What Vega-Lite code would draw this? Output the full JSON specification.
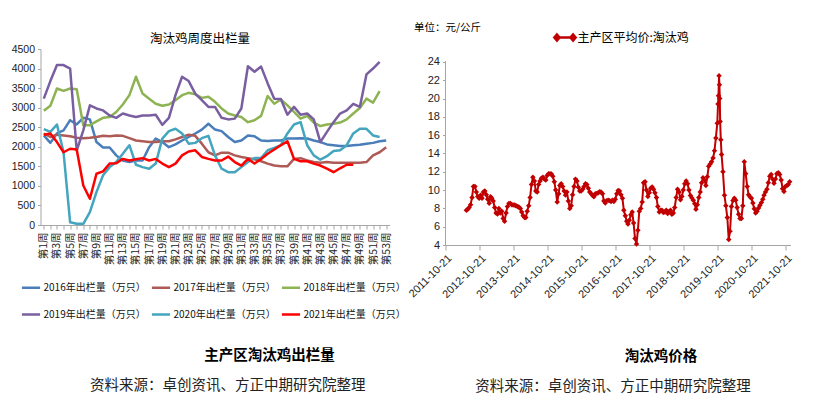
{
  "$schema": "https://vega.github.io/schema/vega-lite/v6.json",
  "background": "white",
  "padding": {"left": 10.5, "top": 22, "right": 4, "bottom": 4},
  "config": {
    "view": {"stroke": null},
    "axis": {"domainColor": "#A6A6A6", "tickColor": "#A6A6A6", "labelColor": "#222222", "grid": false, "title": null}
  },
  "resolve": {"scale": {"color": "independent", "strokeWidth": "independent"}, "legend": {"color": "independent", "strokeWidth": "independent"}},
  "spacing": -1,
  "hconcat": [
    {
      "title": {"text": "资料来源：卓创资讯、方正中期研究院整理", "orient": "bottom", "anchor": "middle", "dx": 19, "offset": 17, "font": "Noto Sans CJK SC", "fontSize": 14.5, "fontWeight": "normal", "color": "#222222"},
      "vconcat": [
        {
          "title": {"text": "主产区淘汰鸡出栏量", "orient": "bottom", "anchor": "middle", "dx": 68, "offset": 84, "font": "Noto Sans CJK SC", "fontSize": 14.5, "fontWeight": "bold", "color": "#000000"},
          "vconcat": [
            {
              "width": 349,
              "height": 176,
              "title": {"text": "淘汰鸡周度出栏量", "font": "Noto Sans CJK SC", "fontSize": 12.5, "fontWeight": "normal", "color": "#000000", "offset": 6, "dy": 7, "anchor": "middle", "dx": -15},
              "data": {"values": [
                {"w":1,"2016":2290,"2017":2340,"2018":2920,"2019":3230,"2020":2450,"2021":2310},
                {"w":2,"2016":2100,"2017":2250,"2018":3050,"2019":3680,"2020":2380,"2021":2340},
                {"w":3,"2016":2340,"2017":2310,"2018":3490,"2019":4090,"2020":2570,"2021":2120},
                {"w":4,"2016":2420,"2017":2290,"2018":3430,"2019":4090,"2020":1860,"2021":1860},
                {"w":5,"2016":2680,"2017":2270,"2018":3490,"2019":4000,"2020":70,"2021":1950},
                {"w":6,"2016":2570,"2017":2230,"2018":3470,"2019":1900,"2020":30,"2021":1930},
                {"w":7,"2016":2740,"2017":2220,"2018":2550,"2019":2420,"2020":30,"2021":1010},
                {"w":8,"2016":2700,"2017":2230,"2018":2550,"2019":3060,"2020":330,"2021":670},
                {"w":9,"2016":2120,"2017":2250,"2018":2650,"2019":2980,"2020":840,"2021":1310},
                {"w":10,"2016":1980,"2017":2280,"2018":2740,"2019":2930,"2020":1270,"2021":1370},
                {"w":11,"2016":1980,"2017":2270,"2018":2760,"2019":2800,"2020":1480,"2021":1570},
                {"w":12,"2016":1780,"2017":2290,"2018":2890,"2019":2740,"2020":1610,"2021":1580},
                {"w":13,"2016":1650,"2017":2280,"2018":3080,"2019":2850,"2020":1820,"2021":1690},
                {"w":14,"2016":1610,"2017":2220,"2018":3320,"2019":2800,"2020":2040,"2021":1650},
                {"w":15,"2016":1650,"2017":2160,"2018":3790,"2019":2760,"2020":1540,"2021":1680},
                {"w":16,"2016":1650,"2017":2140,"2018":3360,"2019":2800,"2020":1480,"2021":1710},
                {"w":17,"2016":1990,"2017":2120,"2018":3230,"2019":2800,"2020":1440,"2021":1650},
                {"w":18,"2016":2210,"2017":2120,"2018":3100,"2019":2820,"2020":1570,"2021":1690},
                {"w":19,"2016":2120,"2017":2140,"2018":3050,"2019":2560,"2020":2210,"2021":1570},
                {"w":20,"2016":1990,"2017":2140,"2018":3080,"2019":2740,"2020":2400,"2021":1480},
                {"w":21,"2016":2060,"2017":2190,"2018":3190,"2019":3320,"2020":2460,"2021":1570},
                {"w":22,"2016":2160,"2017":2250,"2018":3320,"2019":3790,"2020":2340,"2021":1780},
                {"w":23,"2016":2250,"2017":2310,"2018":3380,"2019":3680,"2020":2080,"2021":1880},
                {"w":24,"2016":2340,"2017":2280,"2018":3340,"2019":3360,"2020":2100,"2021":1910},
                {"w":25,"2016":2440,"2017":2080,"2018":3250,"2019":3190,"2020":2220,"2021":1740},
                {"w":26,"2016":2590,"2017":1860,"2018":3280,"2019":3020,"2020":2280,"2021":1690},
                {"w":27,"2016":2440,"2017":1780,"2018":3150,"2019":3020,"2020":1780,"2021":1650},
                {"w":28,"2016":2400,"2017":1850,"2018":2980,"2019":2740,"2020":1440,"2021":1650},
                {"w":29,"2016":2250,"2017":1850,"2018":2850,"2019":2700,"2020":1350,"2021":1750},
                {"w":30,"2016":2120,"2017":1780,"2018":2800,"2019":2720,"2020":1350,"2021":1610},
                {"w":31,"2016":2160,"2017":1740,"2018":2760,"2019":2980,"2020":1480,"2021":1520},
                {"w":32,"2016":2290,"2017":1710,"2018":2630,"2019":4060,"2020":1610,"2021":1690},
                {"w":33,"2016":2270,"2017":1680,"2018":2680,"2019":3920,"2020":1710,"2021":1570},
                {"w":34,"2016":2160,"2017":1630,"2018":2790,"2019":4050,"2020":1710,"2021":1690},
                {"w":35,"2016":2150,"2017":1570,"2018":3300,"2019":3620,"2020":1910,"2021":1820},
                {"w":36,"2016":2160,"2017":1520,"2018":3100,"2019":3230,"2020":1970,"2021":1930},
                {"w":37,"2016":2160,"2017":1500,"2018":3210,"2019":3220,"2020":2040,"2021":2040},
                {"w":38,"2016":2210,"2017":1500,"2018":3060,"2019":2820,"2020":2340,"2021":2140},
                {"w":39,"2016":2210,"2017":1690,"2018":2890,"2019":3020,"2020":2570,"2021":1690},
                {"w":40,"2016":2220,"2017":1710,"2018":2720,"2019":2820,"2020":2630,"2021":1630},
                {"w":41,"2016":2210,"2017":1650,"2018":2790,"2019":2850,"2020":2040,"2021":1630},
                {"w":42,"2016":2160,"2017":1610,"2018":2620,"2019":2700,"2020":1780,"2021":1570},
                {"w":43,"2016":2120,"2017":1590,"2018":2530,"2019":2120,"2020":1670,"2021":1520},
                {"w":44,"2016":2060,"2017":1610,"2018":2570,"2019":2380,"2020":1760,"2021":1440},
                {"w":45,"2016":2040,"2017":1590,"2018":2590,"2019":2630,"2020":1890,"2021":1350},
                {"w":46,"2016":2020,"2017":1590,"2018":2620,"2019":2850,"2020":1910,"2021":1450},
                {"w":47,"2016":2020,"2017":1590,"2018":2700,"2019":2930,"2020":2040,"2021":1540},
                {"w":48,"2016":2040,"2017":1590,"2018":2850,"2019":3100,"2020":2340,"2021":1540},
                {"w":49,"2016":2050,"2017":1590,"2018":2990,"2019":3020,"2020":2460},
                {"w":50,"2016":2080,"2017":1610,"2018":3230,"2019":3850,"2020":2460},
                {"w":51,"2016":2100,"2017":1780,"2018":3130,"2019":4000,"2020":2290},
                {"w":52,"2016":2140,"2017":1860,"2018":3420,"2019":4170,"2020":2250},
                {"w":53,"2016":2160,"2017":1990}
              ]},
              "transform": [{"fold": ["2016", "2017", "2018", "2019", "2020", "2021"], "as": ["series", "value"]}],
              "mark": {"type": "line", "strokeJoin": "round"},
              "encoding": {
                "x": {"field": "w", "type": "quantitative",
                  "scale": {"domain": [0.5, 53.5], "nice": false, "zero": false},
                  "axis": {"values": [1,2,3,4,5,6,7,8,9,10,11,12,13,14,15,16,17,18,19,20,21,22,23,24,25,26,27,28,29,30,31,32,33,34,35,36,37,38,39,40,41,42,43,44,45,46,47,48,49,50,51,52,53],
                    "labelExpr": "datum.value % 2 == 1 ? '第' + datum.value + '周' : ''",
                    "labelAngle": -90, "labelOverlap": false, "labelFont": "Noto Sans CJK SC", "labelFontSize": 10.5, "labelPadding": 3, "tickSize": 4}},
                "y": {"field": "value", "type": "quantitative",
                  "scale": {"domain": [0, 4500], "nice": false},
                  "axis": {"values": [0,500,1000,1500,2000,2500,3000,3500,4000,4500], "format": "d", "labelFont": "Liberation Sans Narrow, Liberation Sans", "labelFontSize": 10.5, "tickSize": 3, "labelPadding": 3}},
                "color": {"field": "series", "type": "nominal",
                  "scale": {"domain": ["2016", "2017", "2018", "2019", "2020", "2021"], "range": ["#4A7EBB", "#AE5A57", "#8DB352", "#7A5FA0", "#44A5BE", "#FF0000"]},
                  "legend": {"orient": "none", "legendX": -20, "legendY": 228, "columns": 3, "direction": "horizontal", "title": null,
                    "symbolType": "stroke", "symbolSize": 330, "symbolStrokeWidth": 3, "labelOffset": 2,
                    "labelFont": "Noto Sans CJK SC", "labelFontSize": 10, "labelColor": "#111111", "labelLimit": 0,
                    "columnPadding": 0, "rowPadding": 11,
                    "labelExpr": "datum.label + '年出栏量（万只）'"}},
                "strokeWidth": {"field": "series", "type": "nominal",
                  "scale": {"domain": ["2016", "2017", "2018", "2019", "2020", "2021"], "range": [2.5, 2.5, 2.5, 2.5, 2.5, 3.2]},
                  "legend": null}
              }
            }
          ]
        }
      ]
    },
    {
      "title": {"text": "资料来源：卓创资讯、方正中期研究院整理", "orient": "bottom", "anchor": "middle", "dx": 13, "offset": 17, "font": "Noto Sans CJK SC", "fontSize": 14.5, "fontWeight": "normal", "color": "#222222"},
      "vconcat": [
        {
          "title": {"text": "淘汰鸡价格", "orient": "bottom", "anchor": "middle", "dx": 61, "offset": 50, "font": "Noto Sans CJK SC", "fontSize": 14.5, "fontWeight": "bold", "color": "#000000"},
          "vconcat": [
            {
              "width": 345,
              "height": 196,
              "data": {"values": [
                {"d":"2012-06-01","v":7.8},{"d":"2012-06-16","v":7.9},{"d":"2012-07-01","v":8.1},{"d":"2012-07-16","v":8.4},{"d":"2012-08-01","v":9.2},{"d":"2012-08-16","v":10.4},{"d":"2012-09-01","v":10.4},{"d":"2012-09-16","v":9.8},{"d":"2012-10-01","v":9.3},{"d":"2012-10-16","v":9.1},{"d":"2012-11-01","v":9.45},{"d":"2012-11-16","v":9.1},{"d":"2012-12-01","v":9.8},{"d":"2012-12-16","v":9.9},
                {"d":"2013-01-01","v":9.5},{"d":"2013-01-16","v":9.0},{"d":"2013-02-01","v":8.55},{"d":"2013-02-16","v":9.27},{"d":"2013-03-01","v":9.1},{"d":"2013-03-16","v":8.8},{"d":"2013-04-01","v":8.1},{"d":"2013-04-16","v":7.5},{"d":"2013-05-01","v":7.4},{"d":"2013-05-16","v":8.0},{"d":"2013-06-01","v":7.5},{"d":"2013-06-16","v":7.7},{"d":"2013-07-01","v":6.9},{"d":"2013-07-16","v":6.6},{"d":"2013-08-01","v":7.5},{"d":"2013-08-16","v":8.2},{"d":"2013-09-01","v":8.55},{"d":"2013-09-16","v":8.55},{"d":"2013-10-01","v":8.4},{"d":"2013-10-16","v":8.36},{"d":"2013-11-01","v":8.36},{"d":"2013-11-16","v":8.3},{"d":"2013-12-01","v":8.2},{"d":"2013-12-16","v":8.15},
                {"d":"2014-01-01","v":8.0},{"d":"2014-01-16","v":7.6},{"d":"2014-02-01","v":7.2},{"d":"2014-02-16","v":7.0},{"d":"2014-03-01","v":7.0},{"d":"2014-03-16","v":7.7},{"d":"2014-04-01","v":8.3},{"d":"2014-04-16","v":9.2},{"d":"2014-05-01","v":10.6},{"d":"2014-05-16","v":11.4},{"d":"2014-06-01","v":11.0},{"d":"2014-06-16","v":9.9},{"d":"2014-07-01","v":9.8},{"d":"2014-07-16","v":10.6},{"d":"2014-08-01","v":11.0},{"d":"2014-08-16","v":11.3},{"d":"2014-09-01","v":11.4},{"d":"2014-09-16","v":11.2},{"d":"2014-10-01","v":11.1},{"d":"2014-10-16","v":11.6},{"d":"2014-11-01","v":11.8},{"d":"2014-11-16","v":11.8},{"d":"2014-12-01","v":11.75},{"d":"2014-12-16","v":11.5},
                {"d":"2015-01-01","v":10.9},{"d":"2015-01-16","v":10.0},{"d":"2015-02-01","v":8.7},{"d":"2015-02-16","v":9.6},{"d":"2015-03-01","v":10.5},{"d":"2015-03-16","v":10.7},{"d":"2015-04-01","v":10.4},{"d":"2015-04-16","v":9.9},{"d":"2015-05-01","v":9.45},{"d":"2015-05-16","v":9.8},{"d":"2015-06-01","v":8.8},{"d":"2015-06-16","v":8.0},{"d":"2015-07-01","v":8.3},{"d":"2015-07-16","v":9.5},{"d":"2015-08-01","v":10.4},{"d":"2015-08-16","v":11.2},{"d":"2015-09-01","v":11.0},{"d":"2015-09-16","v":10.3},{"d":"2015-10-01","v":9.9},{"d":"2015-10-16","v":9.9},{"d":"2015-11-01","v":10.1},{"d":"2015-11-16","v":10.4},{"d":"2015-12-01","v":10.7},{"d":"2015-12-16","v":10.6},
                {"d":"2016-01-01","v":10.2},{"d":"2016-01-16","v":9.8},{"d":"2016-02-01","v":9.6},{"d":"2016-02-16","v":9.4},{"d":"2016-03-01","v":9.27},{"d":"2016-03-16","v":9.6},{"d":"2016-04-01","v":9.64},{"d":"2016-04-16","v":9.7},{"d":"2016-05-01","v":9.82},{"d":"2016-05-16","v":9.8},{"d":"2016-06-01","v":9.6},{"d":"2016-06-16","v":8.8},{"d":"2016-07-01","v":8.6},{"d":"2016-07-16","v":8.85},{"d":"2016-08-01","v":8.9},{"d":"2016-08-16","v":8.85},{"d":"2016-09-01","v":8.75},{"d":"2016-09-16","v":8.9},{"d":"2016-10-01","v":8.75},{"d":"2016-10-16","v":9.0},{"d":"2016-11-01","v":9.6},{"d":"2016-11-16","v":9.95},{"d":"2016-12-01","v":9.9},{"d":"2016-12-16","v":9.5},
                {"d":"2017-01-01","v":9.1},{"d":"2017-01-16","v":7.8},{"d":"2017-02-01","v":7.2},{"d":"2017-02-16","v":6.6},{"d":"2017-03-01","v":6.3},{"d":"2017-03-16","v":6.7},{"d":"2017-04-01","v":7.3},{"d":"2017-04-16","v":7.6},{"d":"2017-05-01","v":6.4},{"d":"2017-05-16","v":4.7},{"d":"2017-06-01","v":4.1},{"d":"2017-06-16","v":5.6},{"d":"2017-07-01","v":7.7},{"d":"2017-07-16","v":8.0},{"d":"2017-08-01","v":8.7},{"d":"2017-08-16","v":10.8},{"d":"2017-09-01","v":10.9},{"d":"2017-09-16","v":10.0},{"d":"2017-10-01","v":9.3},{"d":"2017-10-16","v":9.7},{"d":"2017-11-01","v":10.2},{"d":"2017-11-16","v":10.35},{"d":"2017-12-01","v":10.1},{"d":"2017-12-16","v":9.7},
                {"d":"2018-01-01","v":9.2},{"d":"2018-01-16","v":8.2},{"d":"2018-02-01","v":7.6},{"d":"2018-02-16","v":7.8},{"d":"2018-03-01","v":7.8},{"d":"2018-03-16","v":7.55},{"d":"2018-04-01","v":7.6},{"d":"2018-04-16","v":7.8},{"d":"2018-05-01","v":7.45},{"d":"2018-05-16","v":7.64},{"d":"2018-06-01","v":7.8},{"d":"2018-06-16","v":7.35},{"d":"2018-07-01","v":7.5},{"d":"2018-07-16","v":8.1},{"d":"2018-08-01","v":9.2},{"d":"2018-08-16","v":10.1},{"d":"2018-09-01","v":9.8},{"d":"2018-09-16","v":8.95},{"d":"2018-10-01","v":9.3},{"d":"2018-10-16","v":10.0},{"d":"2018-11-01","v":10.7},{"d":"2018-11-16","v":11.0},{"d":"2018-12-01","v":10.7},{"d":"2018-12-16","v":10.0},
                {"d":"2019-01-01","v":9.4},{"d":"2019-01-16","v":9.15},{"d":"2019-02-01","v":8.9},{"d":"2019-02-16","v":8.5},{"d":"2019-03-01","v":7.9},{"d":"2019-03-16","v":8.4},{"d":"2019-04-01","v":9.2},{"d":"2019-04-16","v":9.8},{"d":"2019-05-01","v":10.8},{"d":"2019-05-16","v":11.35},{"d":"2019-06-01","v":11.1},{"d":"2019-06-16","v":10.5},{"d":"2019-07-01","v":11.45},{"d":"2019-07-16","v":12.6},{"d":"2019-08-01","v":12.85},{"d":"2019-08-16","v":13.1},{"d":"2019-09-01","v":13.5},{"d":"2019-09-16","v":14.3},{"d":"2019-10-01","v":15.7},{"d":"2019-10-16","v":17.3},{"d":"2019-10-24","v":19.4},{"d":"2019-10-29","v":20.3},{"d":"2019-11-04","v":22.5},{"d":"2019-11-08","v":21.5},{"d":"2019-11-12","v":20.0},{"d":"2019-11-16","v":17.5},{"d":"2019-11-23","v":15.5},{"d":"2019-12-01","v":13.9},{"d":"2019-12-16","v":12.0},
                {"d":"2020-01-01","v":9.45},{"d":"2020-01-16","v":8.3},{"d":"2020-02-01","v":7.0},{"d":"2020-02-16","v":4.6},{"d":"2020-03-01","v":5.5},{"d":"2020-03-16","v":8.2},{"d":"2020-04-01","v":8.85},{"d":"2020-04-16","v":9.1},{"d":"2020-05-01","v":8.9},{"d":"2020-05-16","v":8.1},{"d":"2020-06-01","v":7.35},{"d":"2020-06-16","v":6.9},{"d":"2020-07-01","v":6.9},{"d":"2020-07-16","v":8.3},{"d":"2020-08-01","v":13.1},{"d":"2020-08-16","v":11.8},{"d":"2020-09-01","v":10.4},{"d":"2020-09-16","v":9.5},{"d":"2020-10-01","v":9.27},{"d":"2020-10-16","v":9.1},{"d":"2020-11-01","v":8.6},{"d":"2020-11-16","v":7.95},{"d":"2020-12-01","v":7.5},{"d":"2020-12-16","v":7.7},
                {"d":"2021-01-01","v":8.05},{"d":"2021-01-16","v":8.35},{"d":"2021-02-01","v":8.65},{"d":"2021-02-16","v":9.0},{"d":"2021-03-01","v":9.45},{"d":"2021-03-16","v":9.8},{"d":"2021-04-01","v":10.1},{"d":"2021-04-16","v":10.8},{"d":"2021-05-01","v":11.5},{"d":"2021-05-16","v":11.7},{"d":"2021-06-01","v":11.2},{"d":"2021-06-16","v":10.75},{"d":"2021-07-01","v":11.2},{"d":"2021-07-16","v":11.8},{"d":"2021-08-01","v":11.9},{"d":"2021-08-16","v":11.7},{"d":"2021-09-01","v":11.1},{"d":"2021-09-16","v":10.15},{"d":"2021-10-01","v":9.85},{"d":"2021-10-16","v":10.4},{"d":"2021-11-01","v":10.5},{"d":"2021-11-16","v":10.6},{"d":"2021-12-01","v":10.9}
              ]},
              "encoding": {
                "x": {"field": "d", "type": "temporal",
                  "scale": {"domain": [{"year": 2011, "month": 10, "date": 21}, {"year": 2021, "month": 12, "date": 10}], "nice": false},
                  "axis": {"values": [{"year": 2011, "month": 10, "date": 21}, {"year": 2012, "month": 10, "date": 21}, {"year": 2013, "month": 10, "date": 21}, {"year": 2014, "month": 10, "date": 21}, {"year": 2015, "month": 10, "date": 21}, {"year": 2016, "month": 10, "date": 21}, {"year": 2017, "month": 10, "date": 21}, {"year": 2018, "month": 10, "date": 21}, {"year": 2019, "month": 10, "date": 21}, {"year": 2020, "month": 10, "date": 21}, {"year": 2021, "month": 10, "date": 21}],
                    "format": "%Y-%m-%d", "labelAngle": -45, "labelOverlap": false, "labelFont": "Liberation Sans Narrow, Liberation Sans", "labelFontSize": 11, "tickSize": 5, "labelPadding": 2}},
                "y": {"field": "v", "type": "quantitative",
                  "scale": {"domain": [4, 25.42], "nice": false, "zero": false},
                  "axis": {"values": [4,6,8,10,12,14,16,18,20,22,24], "domain": false, "labelFont": "Liberation Sans Narrow, Liberation Sans", "labelFontSize": 11, "tickSize": 3, "labelPadding": 3,
                    "title": "单位：元/公斤", "titleAngle": 0, "titleAlign": "left", "titleBaseline": "middle", "titleX": -32, "titleY": -22, "titleFont": "Noto Sans CJK SC", "titleFontSize": 10.5, "titleFontWeight": "normal", "titleColor": "#000000"}}
              },
              "layer": [
                {"mark": {"type": "rule", "color": "#A6A6A6", "strokeWidth": 1},
                  "encoding": {"x": {"datum": {"year": 2011, "month": 10, "date": 21}, "type": "temporal"}, "y": {"datum": 4, "type": "quantitative"}, "y2": {"datum": 24}}},
                {"mark": {"type": "line", "strokeWidth": 2, "strokeJoin": "round"},
                  "encoding": {"color": {"datum": "主产区平均价:淘汰鸡", "type": "nominal",
                    "scale": {"range": ["#C00000"]},
                    "legend": {"orient": "none", "legendX": 110, "legendY": -21, "title": null,
                      "symbolType": "M-1,0L1,0M-1,-0.38L-0.68,0L-1,0.38L-1.32,0ZM1,-0.38L1.32,0L1,0.38L0.68,0Z",
                      "symbolSize": 260, "symbolStrokeWidth": 2.5, "symbolFillColor": "#C00000", "symbolStrokeColor": "#C00000",
                      "labelFont": "Noto Sans CJK SC", "labelFontSize": 12, "labelColor": "#000000", "labelOffset": 3, "labelLimit": 0}}}},
                {"mark": {"type": "point", "shape": "diamond", "filled": true, "size": 30, "opacity": 1},
                  "encoding": {"color": {"datum": "主产区平均价:淘汰鸡", "type": "nominal"}}}
              ]
            }
          ]
        }
      ]
    }
  ]
}
